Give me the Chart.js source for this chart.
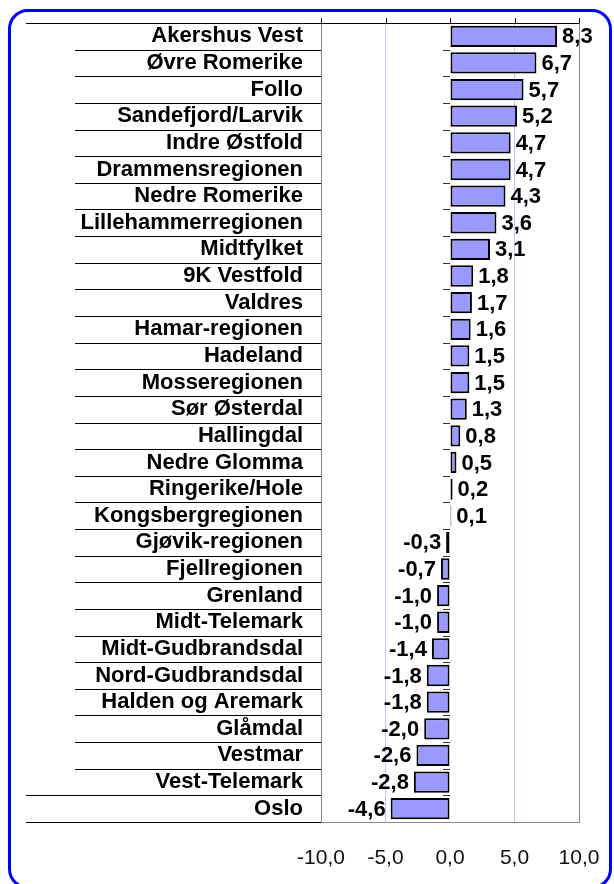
<!DOCTYPE html>
<html>
<head>
<meta charset="utf-8">
<script src="https://cdn.jsdelivr.net/npm/chart.js@4.4.1/dist/chart.umd.min.js"></script>
<style>
  body { margin: 0; background: #fff; overflow: hidden; }
  #ramme {
    position: absolute; left: 8px; top: 9px; width: 598px; height: 874px;
    border: 3px solid #0000ff; border-radius: 20px; pointer-events: none;
  }
</style>
</head>
<body>
<canvas id="Canvas" width="614" height="884"></canvas>
<div id="ramme"></div>
<script>
// Regioner og verdier
let regioner = ["Akershus Vest", "Øvre Romerike", "Follo", "Sandefjord/Larvik", "Indre Østfold",
  "Drammensregionen", "Nedre Romerike", "Lillehammerregionen", "Midtfylket", "9K Vestfold",
  "Valdres", "Hamar-regionen", "Hadeland", "Mosseregionen", "Sør Østerdal", "Hallingdal",
  "Nedre Glomma", "Ringerike/Hole", "Kongsbergregionen", "Gjøvik-regionen", "Fjellregionen",
  "Grenland", "Midt-Telemark", "Midt-Gudbrandsdal", "Nord-Gudbrandsdal", "Halden og Aremark",
  "Glåmdal", "Vestmar", "Vest-Telemark", "Oslo"];
let verdier = [8.3, 6.7, 5.7, 5.2, 4.7, 4.7, 4.3, 3.6, 3.1, 1.8, 1.7, 1.6, 1.5, 1.5, 1.3, 0.8,
  0.5, 0.2, 0.1, -0.3, -0.7, -1.0, -1.0, -1.4, -1.8, -1.8, -2.0, -2.6, -2.8, -4.6];
let xTicks = [-10, -5, 0, 5, 10];

let fonte = "'Liberation Sans', Arial, sans-serif";

function komma(v) {
  return v.toFixed(1).replace(".", ",");
}

function nullPadding(scale) {
  scale.paddingTop = 0;
  scale.paddingBottom = 0;
  scale.paddingLeft = 0;
  scale.paddingRight = 0;
}

// linjer i etikettfeltet + små streker ved null
let linjerPlugin = {
  id: "linjer",
  afterDraw(chart) {
    let ctx = chart.ctx;
    let ys = chart.scales.y;
    let xs = chart.scales.x;
    let area = chart.chartArea;
    let n = regioner.length;
    let x0 = Math.round(xs.getPixelForValue(0));

    ctx.save();
    ctx.lineWidth = 1;
    for (let i = 0; i <= n; i++) {
      let py;
      if (i === 0) py = area.top;
      else if (i === n) py = area.bottom;
      else py = (ys.getPixelForValue(i - 1) + ys.getPixelForValue(i)) / 2;
      py = Math.round(py) + 0.5;
      let start = (i === 0 || i === n || i === n - 1) ? 26 : 75;
      ctx.strokeStyle = "#000";
      ctx.beginPath();
      ctx.moveTo(start, py);
      ctx.lineTo(i === 0 ? area.right : area.left, py);
      ctx.stroke();
      if (i > 0 && i < n) {
        ctx.strokeStyle = "#333";
        ctx.beginPath();
        ctx.moveTo(x0 - 7, py);
        ctx.lineTo(x0, py);
        ctx.stroke();
      }
    }
    // streker over toppen
    ctx.strokeStyle = "#000";
    xTicks.forEach(function (v) {
      let px = Math.round(xs.getPixelForValue(v)) + 0.5;
      ctx.beginPath();
      ctx.moveTo(px, area.top - 5);
      ctx.lineTo(px, area.top);
      ctx.stroke();
    });
    ctx.restore();
  }
};

// verdietiketter ved enden av stolpene
let etikettPlugin = {
  id: "etiketter",
  afterDatasetsDraw(chart) {
    let ctx = chart.ctx;
    let meta = chart.getDatasetMeta(0);
    ctx.save();
    ctx.font = "bold 22px " + fonte;
    ctx.fillStyle = "#000";
    ctx.textBaseline = "middle";
    meta.data.forEach(function (bar, i) {
      let v = verdier[i];
      if (v >= 0) {
        ctx.textAlign = "left";
        ctx.fillText(komma(v), bar.x + 5, bar.y + 1);
      } else {
        ctx.textAlign = "right";
        ctx.fillText(komma(v), bar.x - 5, bar.y + 1);
      }
    });
    ctx.restore();
  }
};

let ctx = document.getElementById("Canvas").getContext("2d");

new Chart(ctx, {
  type: "bar",
  data: {
    labels: regioner,
    datasets: [{
      data: verdier,
      backgroundColor: "#9999ff",
      borderColor: "#000",
      borderWidth: 2,
      borderSkipped: false,
      barPercentage: 0.8,
      categoryPercentage: 1
    }]
  },
  options: {
    indexAxis: "y",
    responsive: false,
    animation: false,
    devicePixelRatio: 1,
    layout: { padding: { top: 23, right: 35, left: 0, bottom: 0 } },
    plugins: {
      legend: { display: false },
      tooltip: { enabled: false }
    },
    scales: {
      x: {
        min: -10,
        max: 10,
        afterBuildTicks: function (scale) {
          scale.ticks = xTicks.map(function (v) { return { value: v }; });
        },
        afterFit: function (scale) {
          scale.height = 62;
          nullPadding(scale);
        },
        grid: {
          drawTicks: false,
          color: function (c) {
            let v = c.tick ? c.tick.value : null;
            if (v === 5 || v === -5) return "#c4c4ff";
            if (v === 10 || v === -10) return "#888";
            return "rgba(0,0,0,0)";
          }
        },
        border: { color: "#888" },
        ticks: {
          padding: 24,
          color: "#111",
          font: { family: fonte, size: 21 },
          maxRotation: 0,
          callback: function (v) { return komma(v); }
        }
      },
      y: {
        afterFit: function (scale) {
          scale.width = 321;
          nullPadding(scale);
        },
        grid: { display: false, drawTicks: false },
        border: { color: "#888" },
        ticks: {
          autoSkip: false,
          padding: 18,
          color: "#000",
          font: { family: fonte, size: 22, weight: "bold" }
        }
      }
    }
  },
  plugins: [linjerPlugin, etikettPlugin]
});
</script>
</body>
</html>
